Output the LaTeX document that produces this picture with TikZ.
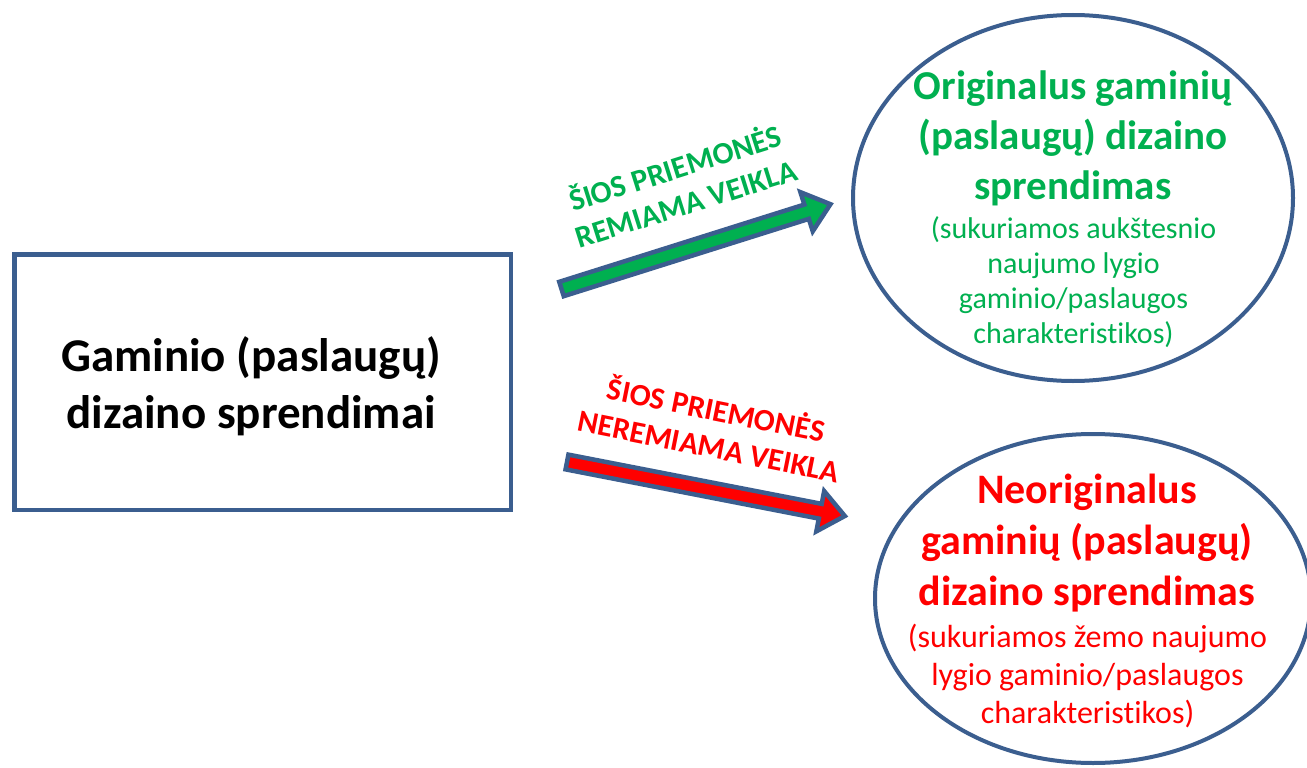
\documentclass[tikz,border=0pt]{standalone}
\usepackage{fontspec}
\setmainfont[Ligatures=NoCommon]{Carlito}
\usetikzlibrary{shapes.geometric}
\definecolor{bord}{RGB}{59,94,143}
\definecolor{grn}{RGB}{0,176,80}
\definecolor{rd}{RGB}{255,0,0}
\begin{document}
\begin{tikzpicture}[x=1pt,y=1pt,
  box/.style={draw=bord, line width=4.5pt, rectangle, minimum width=496.5pt, minimum height=255.5pt, inner sep=0pt},
  oval/.style={draw=bord, line width=4pt, ellipse, inner sep=0pt},
  bigtxt/.style={align=center, inner sep=0pt, font=\bfseries\fontsize{47}{57}\selectfont},
  headtxt/.style={align=center, inner sep=0pt, font=\bfseries\fontsize{41}{50}\selectfont},
  subtxt/.style={align=center, inner sep=0pt, font=\fontsize{30}{35}\selectfont},
  lbltxt/.style={align=center, inner sep=0pt, font=\bfseries\fontsize{31}{37}\selectfont},
  arrowbody/.style={draw=bord, line width=4.5pt, line join=miter, miter limit=10}
]
\useasboundingbox (0,0) rectangle (1307,-768);
\fill[white] (0,0) rectangle (1307,-768);
\clip (0,0) rectangle (1307,-768);

% left box
\node[box] (src) at (262.5,-382) {};
\node[bigtxt] (srctxt) at (251,-386.5) {Gaminio (paslaugų)\\dizaino sprendimai};

% upper ellipse
\node[oval, minimum width=440pt, minimum height=366pt] (orig) at (1073,-198) {};
\node[headtxt, text=grn] (origh) at (1073,-138) {Originalus gaminių\\(paslaugų) dizaino\\sprendimas};
\node[subtxt, text=grn] (origs) at (1073.5,-282) {(sukuriamos aukštesnio\\naujumo lygio\\gaminio/paslaugos\\charakteristikos)};

% lower ellipse
\node[oval, minimum width=436pt, minimum height=329pt] (neo) at (1093,-598.5) {};
\node[headtxt, text=rd, font=\bfseries\fontsize{42}{51}\selectfont] (neoh) at (1087,-543.5) {Neoriginalus\\gaminių (paslaugų)\\dizaino sprendimas};
\node[subtxt, text=rd, font=\fontsize{32}{38}\selectfont] (neos) at (1087.5,-676.5) {(sukuriamos žemo naujumo\\lygio gaminio/paslaugos\\charakteristikos)};

% green arrow
\begin{scope}[shift={(561.5,-289)}, rotate=17.5]
  \coordinate (gtail) at (0,0);
  \coordinate (gtip) at (282,0);
  \filldraw[arrowbody, fill=grn] (gtail) ++(0,-7.5) -- ++(257,0) -- ++(0,-13) -- (gtip) -- ++(-25,20.5) -- ++(0,-13) -- ++(-257,0) -- cycle;
\end{scope}
\node[lbltxt, text=grn, rotate=17.5] (glbl) at (680,-184) {ŠIOS PRIEMONĖS\\REMIAMA VEIKLA};

% red arrow
\begin{scope}[shift={(567,-462)}, rotate=-11.0]
  \coordinate (rtail) at (0,0);
  \coordinate (rtip) at (283,0);
  \filldraw[arrowbody, fill=rd] (rtail) ++(0,-7.5) -- ++(258,0) -- ++(0,-13) -- (rtip) -- ++(-25,20.5) -- ++(0,-13) -- ++(-258,0) -- cycle;
\end{scope}
\node[lbltxt, text=rd, rotate=-11.3] (rlbl) at (713,-426) {ŠIOS PRIEMONĖS\\NEREMIAMA VEIKLA};
\end{tikzpicture}
\end{document}
